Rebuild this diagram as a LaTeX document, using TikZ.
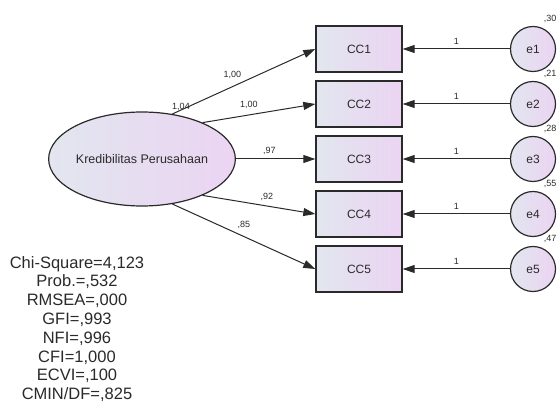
\documentclass[tikz,border=0pt]{standalone}
\usepackage{fontspec}
\setmainfont{Liberation Sans}
\usetikzlibrary{arrows.meta,shapes,calc}
\definecolor{fillL}{HTML}{E2E6EF}
\definecolor{fillR}{HTML}{EBD4F2}
\definecolor{ink}{HTML}{2A2A2A}

\begin{document}
\begin{tikzpicture}[x=1pt,y=-1pt,
  every node/.style={text=ink},
  obs/.style={draw=ink, line width=1.4pt, rectangle, minimum width=86pt, minimum height=46pt, inner sep=0pt, left color=fillL, right color=fillR, font=\fontsize{12}{12}\selectfont},
  err/.style={draw=ink, line width=1.2pt, circle, minimum size=45pt, inner sep=0pt, left color=fillL, right color=fillR, font=\fontsize{12}{12}\selectfont},
  lat/.style={draw=ink, line width=1.2pt, ellipse, minimum width=176pt, minimum height=94pt, inner sep=0pt, left color=fillL, right color=fillR, font=\fontsize{12.5}{12.5}\selectfont},
  lbl/.style={font=\fontsize{9}{9}\selectfont, inner sep=1pt},
  load/.style={draw=ink, line width=1pt, -{Triangle[length=12pt,width=8pt]}}
]
\useasboundingbox (0,0) rectangle (557,403);

\node[lat] (K) at (142,159) {Kredibilitas Perusahaan};
\node[lbl] (vK) at (181,107) {1,04};

\foreach \i/\y/\v in {1/49/{,30},2/104/{,21},3/159/{,28},4/214/{,55},5/269/{,47}} {
  \node[obs] (CC\i) at (359,\y) {CC\i};
  \node[err] (e\i) at (533,\y) {e\i};
  \node[lbl] (v\i) at ($(e\i)+(17,-30)$) {\v};
  \draw[load] (e\i) -- node[lbl, midway, above=3pt] {1} (CC\i);
}

% factor loadings
\draw[load] (K.56) -- node[lbl, pos=.42, above=7pt] (l1) {1,00} (CC1.west);
\draw[load] (K.31) -- node[lbl, pos=.41, above=5pt] (l2) {1,00} (CC2.west);
\draw[load] (K.east) -- node[lbl, pos=.42, above=3pt] (l3) {,97} (CC3.west);
\draw[load] (K.-31) -- node[lbl, pos=.57, above=4pt] (l4) {,92} (CC4.west);
\draw[load] (K.-56) -- node[lbl, pos=.50, above=6pt] (l5) {,85} (CC5.west);

\node[align=center, font=\fontsize{16.5}{18.8}\selectfont] (stats) at (77,329)
  {Chi-Square=4,123\\Prob.=,532\\RMSEA=,000\\GFI=,993\\NFI=,996\\CFI=1,000\\ECVI=,100\\CMIN/DF=,825};
\end{tikzpicture}
\end{document}
